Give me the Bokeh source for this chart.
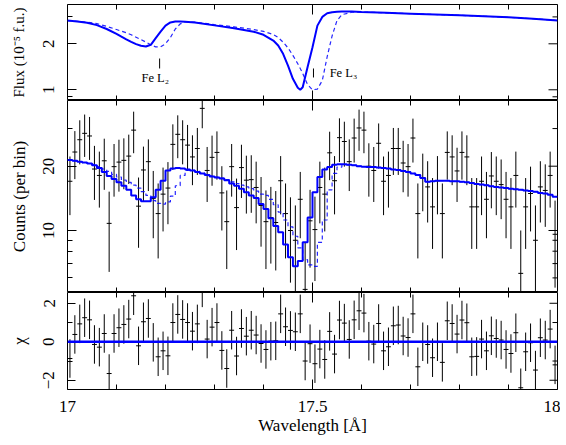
import numpy as np
from bokeh.plotting import figure
from bokeh.models import Range1d, FixedTicker, Span
from bokeh.layouts import column
from bokeh.embed import file_html
from bokeh.resources import INLINE
from bokeh.core.properties import value

# ---------------- data ----------------
bin_start = 17.0
bin_width = 0.01
n_bins = 100

counts = [17.0, 23.3, 26.6, 28.5, 27.7, 19.4, 18.1, 21.2, 10.8, 19.9,
          20.9, 21.3, 22.3, 29.5, 13.0, 19.2, 21.0, 14.1, 12.0, 14.8,
          15.8, 25.3, 28.2, 26.6, 25.1, 22.1, 24.2, 37.3, 19.1, 22.0,
          23.2, 15.0, 11.0, 19.9, 12.8, 19.7, 17.2, 17.3, 15.9, 13.1,
          11.0, 11.5, 10.9, 17.1, 12.0, 10.0, 9.0, 14.0, 5.3, 11.1,
          10.1, 15.9, 14.8, 23.1, 17.1, 27.2, 26.1, 21.0, 27.1, 30.2,
          29.5, 20.0, 19.1, 25.6, 17.0, 18.1, 24.2, 24.2, 20.7, 19.9,
          27.1, 12.0, 17.6, 16.0, 12.9, 17.1, 12.0, 23.2, 22.1, 19.0,
          23.2, 22.1, 12.9, 12.9, 17.0, 14.0, 18.0, 17.0, 16.4, 14.0,
          12.9, 18.1, 6.3, 12.9, 14.9, 9.0, 16.0, 15.4, 18.1, 9.6]

counts_err = [5.2, 5.9, 6.2, 6.4, 6.3, 5.5, 5.3, 5.7, 4.4, 5.5,
              5.7, 5.7, 5.8, 6.5, 4.7, 5.5, 5.7, 4.9, 4.6, 4.9,
              5.1, 6.1, 6.4, 6.2, 6.1, 5.8, 6.0, 7.2, 5.5, 5.8,
              5.9, 5.0, 4.4, 5.5, 4.7, 5.5, 5.2, 5.2, 5.1, 4.7,
              4.4, 4.5, 4.4, 5.2, 4.6, 4.3, 4.1, 4.8, 3.5, 4.4,
              4.3, 5.1, 4.9, 5.9, 5.2, 6.3, 6.2, 5.7, 6.3, 6.6,
              6.5, 5.6, 5.5, 6.1, 5.2, 5.3, 6.0, 6.0, 5.6, 5.5,
              6.3, 4.6, 5.3, 5.1, 4.7, 5.2, 4.6, 5.9, 5.8, 5.4,
              5.9, 5.8, 4.7, 4.7, 5.2, 4.8, 5.3, 5.2, 5.1, 4.8,
              4.7, 5.3, 3.7, 4.7, 5.0, 4.1, 5.1, 5.0, 5.3, 4.2]

chi = [-0.87, 0.38, 0.93, 1.25, 1.14, -0.14, -0.28, 0.43, -1.65, 0.43,
       0.73, 0.90, 1.18, 2.39, -0.21, 1.04, 1.21, -0.03, -0.78, -0.47,
       -0.73, 1.00, 1.42, 1.16, 1.00, 0.55, 0.93, 2.80, 0.14, 0.76,
       1.00, -0.45, -1.39, 0.60, -0.74, 0.69, 0.29, 0.60, 0.35, -0.09,
       -0.40, 0.03, 0.05, 1.45, 0.78, 0.59, 0.52, 1.45, -1.00, -0.10,
       -1.14, -0.38, -0.92, 0.54, -0.64, 1.13, 0.97, 0.12, 1.14, 1.61,
       1.49, 0.03, -0.12, 0.95, -0.47, -0.26, 0.83, 0.87, 0.30, 0.22,
       1.45, -1.30, 0.00, -0.14, -0.83, 0.00, -1.07, 1.09, 0.95, 0.40,
       1.13, 0.99, -0.78, -0.76, 0.14, -0.47, 0.31, 0.17, 0.09, -0.40,
       -0.61, 0.47, -2.39, -0.52, -0.05, -1.47, 0.21, 0.09, 0.66, -1.20]
chi_err = 1.0

model_counts = [21.4, 21.2, 21.0, 20.8, 20.6, 20.2, 19.6, 18.8, 18.0, 17.4,
                16.8, 16.2, 15.5, 14.6, 14.0, 13.7, 13.7, 14.3, 15.5, 17.1,
                19.1, 19.5, 19.6, 19.5, 19.3, 19.1, 18.8, 18.5, 18.2, 17.9,
                17.7, 17.5, 17.2, 16.6, 16.2, 15.7, 15.1, 14.6, 14.2, 13.3,
                12.6, 11.4, 10.5, 9.8, 8.6, 7.5, 6.8, 7.2, 8.8, 11.5,
                15.1, 17.8, 19.3, 19.8, 20.3, 20.4, 20.4, 20.3, 20.2, 20.0,
                19.9, 19.8, 19.8, 19.7, 19.6, 19.5, 19.3, 19.2, 19.0, 18.8,
                18.5, 18.2, 17.6, 16.9, 17.0, 17.1, 17.1, 17.1, 17.0, 17.0,
                16.9, 16.8, 16.7, 16.5, 16.4, 16.3, 16.1, 16.0, 15.9, 15.8,
                15.7, 15.6, 15.5, 15.4, 15.3, 15.2, 15.0, 14.9, 14.7, 14.4]

model_counts_dash = [21.4, 21.2, 21.0, 20.8, 20.6, 20.4, 19.9, 19.4, 18.9, 18.3,
                     17.8, 17.2, 16.8, 16.3, 15.8, 15.2, 14.6, 13.8, 13.4, 13.3,
                     13.6, 14.5, 16.2, 18.1, 19.1, 19.1, 18.9, 18.6, 18.3, 18.0,
                     17.8, 17.6, 17.3, 16.9, 16.6, 16.3, 16.0, 15.7, 15.3, 14.8,
                     14.6, 14.0, 13.2, 12.2, 11.2, 10.4, 9.4, 8.3, 7.3, 6.9,
                     6.8, 8.8, 11.2, 15.5, 18.5, 19.8, 20.3, 20.3, 20.2, 20.0,
                     19.9, 19.8, 19.8, 19.7, 19.6, 19.5, 19.3, 19.2, 19.0, 18.8,
                     18.5, 18.2, 17.6, 16.9, 17.0, 17.1, 17.1, 17.1, 17.0, 17.0,
                     16.9, 16.8, 16.7, 16.5, 16.4, 16.3, 16.1, 16.0, 15.9, 15.8,
                     15.7, 15.6, 15.5, 15.4, 15.3, 15.2, 15.0, 14.9, 14.7, 14.4]

wl_model = [17.00, 17.02, 17.04, 17.06, 17.08, 17.10, 17.12, 17.13, 17.14, 17.15,
            17.16, 17.17, 17.18, 17.19, 17.20, 17.21, 17.22, 17.23, 17.24, 17.26,
            17.30, 17.34, 17.38, 17.40, 17.42, 17.43, 17.44, 17.45, 17.46, 17.47,
            17.475, 17.48, 17.49, 17.50, 17.51, 17.52, 17.53, 17.54, 17.55, 17.56,
            17.58, 17.60, 17.65, 17.70, 17.75, 17.80, 17.85, 17.90, 17.95, 18.00]

flux_solid = [2.84, 2.80, 2.75, 2.65, 2.50, 2.32, 2.14, 2.06, 1.99, 1.94,
              1.92, 1.97, 2.18, 2.40, 2.63, 2.76, 2.80, 2.80, 2.79, 2.76,
              2.64, 2.53, 2.40, 2.29, 2.10, 1.95, 1.72, 1.44, 1.18, 1.03,
              1.00, 1.04, 1.41, 1.90, 2.63, 3.00, 3.17, 3.22, 3.24, 3.25,
              3.25, 3.23, 3.19, 3.15, 3.11, 3.07, 3.03, 2.98, 2.92, 2.84]

flux_dash = [2.84, 2.81, 2.77, 2.71, 2.60, 2.48, 2.36, 2.29, 2.21, 2.13,
             2.05, 1.97, 1.91, 1.91, 2.00, 2.20, 2.50, 2.70, 2.78, 2.77,
             2.67, 2.58, 2.48, 2.41, 2.30, 2.20, 2.05, 1.88, 1.68, 1.48,
             1.38, 1.28, 1.08, 1.00, 1.01, 1.15, 1.65, 2.25, 2.84, 3.10,
             3.22, 3.23, 3.19, 3.15, 3.11, 3.07, 3.03, 2.98, 2.92, 2.84]

fe_labels = ["Fe L\u2082", "Fe L\u2083"]
fe_label_wl = [17.151, 17.535]
fe_label_flux = [1.199, 1.284]
fe_mark_wl = [17.188, 17.502]
fe_mark_lo = [1.379, 1.204]
fe_mark_hi = [1.602, 1.379]

x_major = [17.0, 17.5, 18.0]
x_labels = {17.0: "17", 17.5: "17.5", 18.0: "18"}
x_minor = [17.1, 17.2, 17.3, 17.4, 17.6, 17.7, 17.8, 17.9]
flux_major = [1, 2]
flux_minor = [0.9, 3]
cnt_major = [10, 20]
cnt_minor = [6, 7, 8, 9, 30]
chi_major = [-2, 0, 2]
chi_labels = {-2: "\u22122", 0: "0", 2: "2"}
chi_minor = [-1, 1]

# ---------------- derived positions ----------------
wl = bin_start + bin_width * (np.arange(n_bins) + 0.5)
edges = bin_start + bin_width * np.arange(n_bins + 1)
cnt = np.array(counts)
cerr = np.array(counts_err)
chi_a = np.array(chi)

FONT = "Liberation Serif, Times New Roman, serif"
BLUE = "#0000ff"
W = 560
LB = 67
RB = 3
X_MAJ_LEN = 10
MIN_LEN = 5
TICK_STANDOFF = 13
YLABEL_STANDOFF = 12

xr = Range1d(17.0, 18.0)


def make_fig(h, yr, ytype, top=0, bottom=0, xaxis=False):
    p = figure(width=W, height=h, x_range=xr, y_range=yr, y_axis_type=ytype,
               x_axis_location="below" if xaxis else None,
               output_backend="svg", toolbar_location=None,
               min_border_left=LB, min_border_right=RB,
               min_border_top=top, min_border_bottom=bottom)
    p.xgrid.visible = False
    p.ygrid.visible = False
    p.outline_line_color = "black"
    p.outline_line_width = 1
    p.background_fill_color = "white"
    p.border_fill_color = "white"
    return p


def style_axis(ax, major, minor, maj_len, labels, standoff=TICK_STANDOFF, vertical=False):
    ax.ticker = FixedTicker(ticks=major, minor_ticks=minor)
    ax.major_tick_in = maj_len
    ax.major_tick_out = 0
    ax.minor_tick_in = MIN_LEN
    ax.minor_tick_out = 0
    ax.major_tick_line_color = "black"
    ax.minor_tick_line_color = "black"
    ax.axis_line_color = None
    ax.major_label_overrides = labels
    ax.major_label_text_font = FONT
    ax.major_label_text_font_size = "17px"
    ax.major_label_text_color = "black"
    ax.major_label_standoff = standoff
    if vertical:
        ax.major_label_orientation = "vertical"


def style_label(ax, text, size="17px", standoff=YLABEL_STANDOFF):
    ax.axis_label = text
    ax.axis_label_text_font = FONT
    ax.axis_label_text_font_size = size
    ax.axis_label_text_font_style = "normal"
    ax.axis_label_text_color = "black"
    ax.axis_label_standoff = standoff


def frame_ticks(p, ymajor, yminor, ymaj_len, bottom=True):
    """Inward tick marks on the unlabelled frame sides (half of each dash is clipped)."""
    edges_y = [p.y_range.end] + ([p.y_range.start] if bottom else [])
    for yv in edges_y:
        p.scatter(x=x_major, y=[yv] * len(x_major), marker="dash", angle=np.pi / 2,
                  size=2 * X_MAJ_LEN, line_color="black", line_width=1)
        p.scatter(x=x_minor, y=[yv] * len(x_minor), marker="dash", angle=np.pi / 2,
                  size=2 * MIN_LEN, line_color="black", line_width=1)
    xe = p.x_range.end
    p.scatter(x=[xe] * len(ymajor), y=ymajor, marker="dash",
              size=2 * ymaj_len, line_color="black", line_width=1)
    p.scatter(x=[xe] * len(yminor), y=yminor, marker="dash",
              size=2 * MIN_LEN, line_color="black", line_width=1)


# ---------------- top panel: model flux ----------------
p1 = make_fig(100, Range1d(0.851, 3.616), "log", top=4, bottom=0)
style_axis(p1.yaxis[0], flux_major, flux_minor, 9, {1: "1", 2: "2"}, vertical=True)
style_label(p1.yaxis[0], "Flux (10\u207b\u2075 f.u.)", size="15px",
            standoff=YLABEL_STANDOFF + 2)
frame_ticks(p1, flux_major, flux_minor, 9, bottom=True)

p1.line(wl_model, flux_dash, line_color=BLUE, line_width=1.2, line_dash="4 3",
        line_alpha=0.85)
p1.line(wl_model, flux_solid, line_color=BLUE, line_width=2)
p1.segment(x0=fe_mark_wl, y0=fe_mark_lo, x1=fe_mark_wl, y1=fe_mark_hi,
           line_color="black", line_width=1)
p1.text(x=fe_label_wl, y=fe_label_flux, text=fe_labels,
        text_font=value(FONT), text_font_size="12.5px",
        text_baseline="middle", text_align="left", text_color="black")

# ---------------- middle panel: counts ----------------
p2 = make_fig(192, Range1d(5.126, 40.6), "log", top=0, bottom=0)
style_axis(p2.yaxis[0], cnt_major, cnt_minor, 9, {10: "10", 20: "20"}, vertical=True)
style_label(p2.yaxis[0], "Counts (per bin)")
frame_ticks(p2, cnt_major, cnt_minor, 9, bottom=True)

p2.segment(x0=wl, y0=cnt - cerr, x1=wl, y1=cnt + cerr,
           line_color="black", line_width=1)
p2.segment(x0=wl - bin_width / 2, y0=cnt, x1=wl + bin_width / 2, y1=cnt,
           line_color="black", line_width=1)
p2.step(x=edges, y=list(model_counts_dash) + [model_counts_dash[-1]], mode="after",
        line_color=BLUE, line_width=1.2, line_dash="4 3", line_alpha=0.85)
p2.step(x=edges, y=list(model_counts) + [model_counts[-1]], mode="after",
        line_color=BLUE, line_width=2)

# ---------------- bottom panel: chi ----------------
p3 = make_fig(153, Range1d(-2.48, 2.56), "linear", top=0, bottom=56, xaxis=True)
style_axis(p3.xaxis[0], x_major, x_minor, X_MAJ_LEN, x_labels, standoff=11)
style_label(p3.xaxis[0], "Wavelength [\u00c5]", standoff=1)
style_axis(p3.yaxis[0], chi_major, chi_minor, 8, chi_labels, vertical=True)
style_label(p3.yaxis[0], "\u03c7")
frame_ticks(p3, chi_major, chi_minor, 8, bottom=False)

p3.segment(x0=wl, y0=chi_a - chi_err, x1=wl, y1=chi_a + chi_err,
           line_color="black", line_width=1)
p3.segment(x0=wl - bin_width / 2, y0=chi_a, x1=wl + bin_width / 2, y1=chi_a,
           line_color="black", line_width=1)
p3.add_layout(Span(location=0, dimension="width", line_color=BLUE, line_width=2.5))

layout = column(p1, p2, p3, spacing=0)
open("out.html", "w").write(file_html(layout, INLINE))
